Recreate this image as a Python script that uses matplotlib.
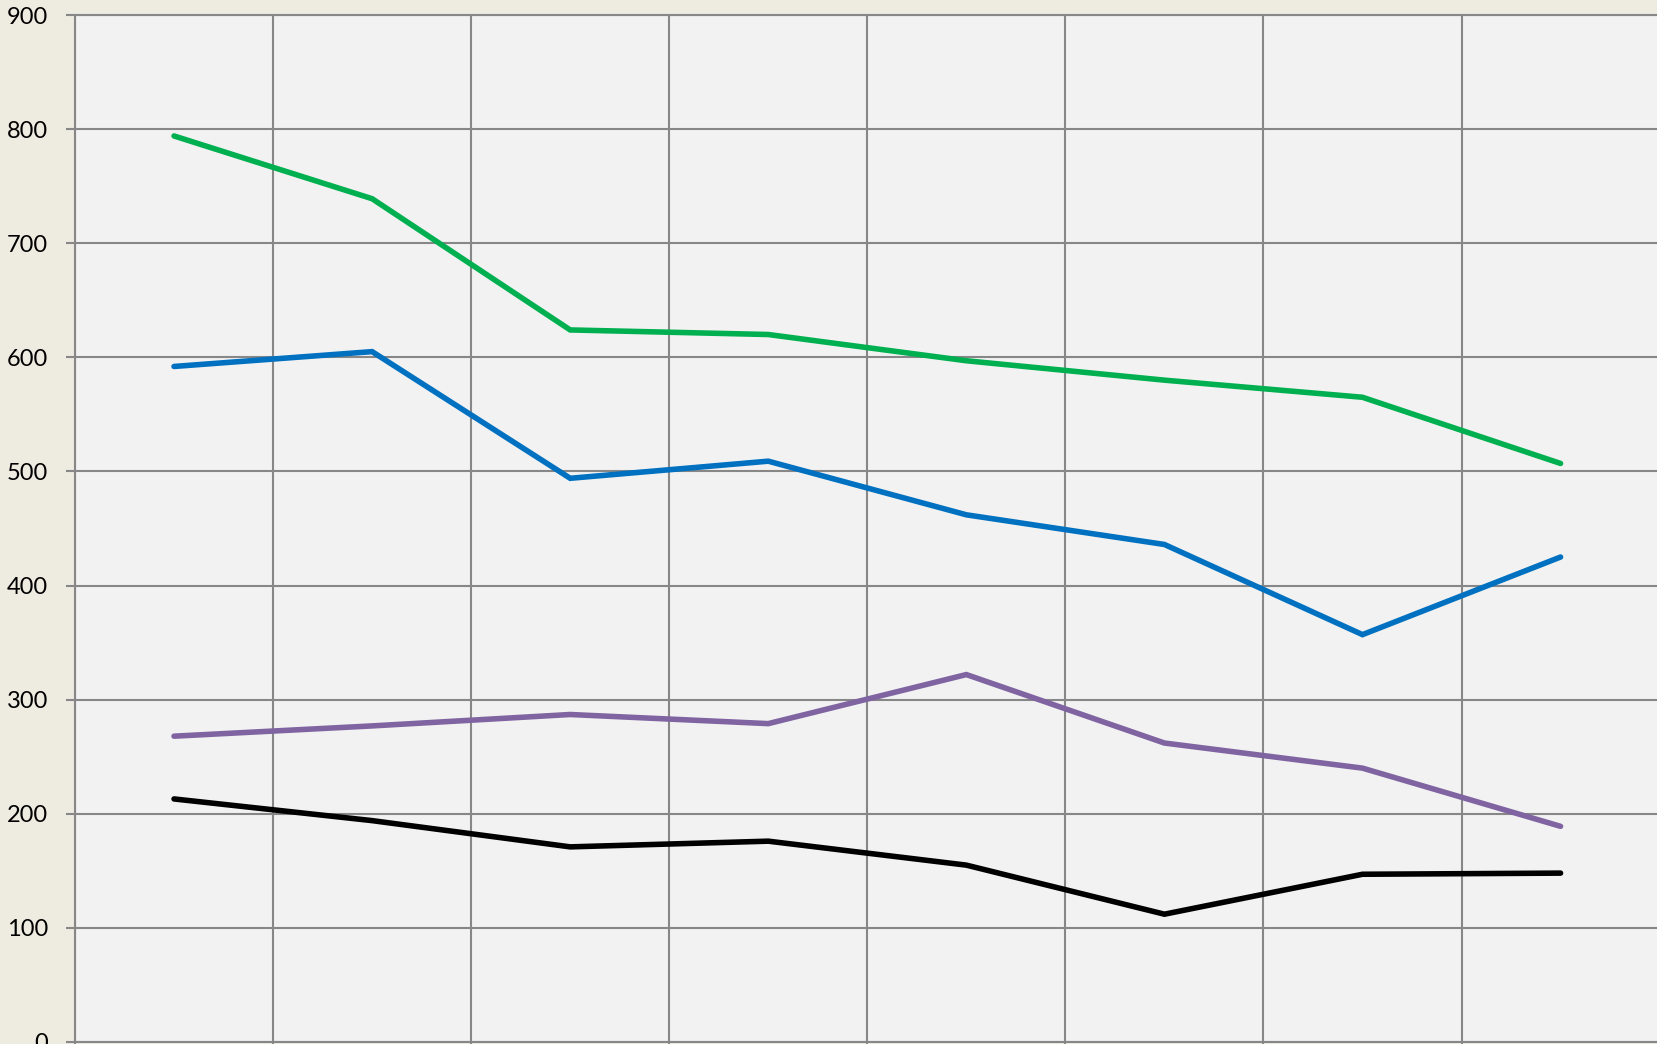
import numpy as np
import matplotlib
matplotlib.use("Agg")
import matplotlib.pyplot as plt

# Data (8 categories, labels not visible)
categories = np.arange(8)
series_green = [794, 739, 624, 620, 597, 580, 565, 507]
series_blue = [592, 605, 494, 509, 462, 436, 357, 425]
series_purple = [268, 277, 287, 279, 322, 262, 240, 189]
series_black = [213, 194, 171, 176, 155, 112, 147, 148]
y_ticks = [0, 100, 200, 300, 400, 500, 600, 700, 800, 900]

GRID = "#878787"

plt.rcParams['font.family'] = ['Lato', 'DejaVu Sans']

W, H = 1658, 1044
fig = plt.figure(figsize=(W / 100, H / 100), dpi=100, facecolor="#EEECE1")
left, right, top, bottom = 75, 1659.6, 15, 1042
ax = fig.add_axes([left / W, (H - bottom) / H, (right - left) / W, (bottom - top) / H])
ax.set_facecolor("#F2F2F2")

for vals, col in [(series_green, "#00B050"), (series_blue, "#0070C0"),
                  (series_purple, "#8064A2"), (series_black, "#000000")]:
    ax.plot(categories, vals, color=col, linewidth=4.0,
            solid_capstyle="round", solid_joinstyle="miter", zorder=3)

ax.set_xlim(-0.5, len(categories) - 0.5)
ax.set_ylim(0, 900)
ax.set_xticks(np.arange(-0.5, len(categories)))
ax.set_xticklabels([])
ax.set_yticks(y_ticks)
ax.set_yticklabels([str(v) for v in y_ticks], fontsize=17)

ax.grid(True, color=GRID, linewidth=1.5, zorder=1)
ax.set_axisbelow(True)
for s in ax.spines.values():
    s.set_color(GRID)
    s.set_linewidth(1.5)
ax.tick_params(axis="y", length=6.5, width=1.5, color=GRID, pad=13, labelcolor="black")
ax.tick_params(axis="x", length=6.5, width=1.5, color=GRID)

fig.savefig("out.png", dpi=100, facecolor=fig.get_facecolor())
